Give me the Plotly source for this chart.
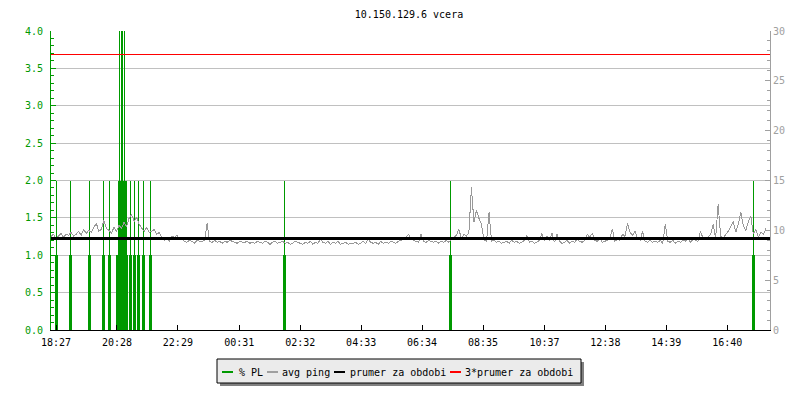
"""Ping / packet-loss chart for 10.150.129.6 (yesterday), RRD-style."""
import pandas as pd
import plotly.graph_objects as go

TITLE = "10.150.129.6 vcera"
START = pd.Timestamp("2024-01-14 18:17")
PERIOD_MIN = 1428

# avg ping [ms], one sample every 5 minutes from START
ping_ms = [
    9.4, 9.6, 9.2, 9.5, 9.7, 9.3, 9.6, 9.5, 9.8, 9.4, 9.6, 9.9, 9.5, 10.1, 9.7, 10.0, 9.8, 10.3, 10.7, 9.9,
    10.1, 11.0, 10.2, 10.0, 9.7, 10.3, 9.9, 10.5, 10.2, 10.8, 10.4, 11.2, 11.6, 10.9, 11.3, 10.6, 10.2, 9.9, 10.3, 9.8,
    9.9, 10.1, 9.6, 9.8, 9.3, 9.0, 9.2, 8.9, 9.4, 9.3, 9.5, 9.1, 9.2, 8.9, 8.8, 9.0, 8.9, 8.7, 9.0, 8.9,
    8.9, 9.0, 10.7, 8.9, 8.8, 9.0, 8.8, 8.9, 8.7, 8.9, 8.8, 9.0, 8.9, 8.8, 8.7, 8.9, 8.8, 8.8, 8.9, 8.7,
    8.8, 8.7, 8.9, 8.8, 8.7, 8.9, 8.8, 8.6, 8.8, 8.9, 8.7, 8.8, 8.9, 8.7, 8.8, 8.6, 8.7, 8.9, 8.8, 8.7,
    8.6, 8.8, 8.7, 8.9, 8.6, 8.8, 8.7, 9.1, 8.8, 8.7, 8.9, 8.6, 8.8, 8.7, 8.9, 8.6, 8.7, 8.8, 8.6, 8.7,
    8.7, 8.8, 8.6, 8.7, 8.9, 8.7, 9.1, 8.8, 8.7, 8.8, 8.6, 8.9, 8.7, 8.8, 8.7, 8.9, 8.8, 8.7, 8.9, 9.0,
    9.1, 9.3, 9.6, 9.2, 9.0, 8.9, 8.8, 9.6, 8.9, 8.8, 9.0, 8.9, 8.8, 8.9, 8.7, 8.9, 8.8, 9.0, 8.8, 9.1,
    9.3, 9.5, 10.1, 9.2, 9.6, 9.4, 9.8, 14.3, 10.8, 12.0, 11.2, 10.6, 9.0, 8.9, 11.8, 8.9, 9.0, 8.8, 8.9, 8.7,
    8.8, 8.9, 8.7, 9.0, 8.8, 8.9, 8.7, 8.8, 9.0, 9.5, 8.8, 8.9, 8.7, 8.8, 9.0, 9.7, 8.9, 9.4, 9.0, 9.7,
    8.8, 9.6, 8.9, 8.7, 8.8, 9.0, 8.7, 8.9, 8.8, 9.1, 8.9, 8.8, 9.0, 9.6, 9.3, 9.7, 9.0, 8.9, 9.2, 8.8,
    8.9, 9.0, 9.3, 10.1, 8.9, 9.1, 9.0, 9.6, 9.4, 10.7, 9.8, 9.5, 9.9, 9.2, 9.0, 9.9, 8.9, 8.8, 9.0, 8.8,
    8.9, 8.8, 9.0, 8.7, 10.6, 8.9, 8.8, 9.0, 8.7, 8.9, 8.8, 9.0, 8.9, 9.2, 8.8, 9.1, 9.0, 8.9, 9.9, 9.2,
    9.1, 9.3, 9.6, 10.6, 9.2, 12.6, 9.4, 9.2, 9.6, 9.9, 10.4, 10.9, 9.8, 10.6, 11.8, 10.5, 10.0, 10.9, 11.4, 9.6,
    10.1, 9.3, 9.8, 9.6, 10.2,
]
avg_ping = 9.23  # "prumer za obdobi"

# packet loss [%], 2-minute samples with non-zero loss
pl_times = [
    "18:25", "18:27", "18:29", "18:53", "18:55", "18:57",
    "19:31", "19:33", "19:35", "19:59", "20:01", "20:03",
    "20:11", "20:13", "20:15",
    "20:27", "20:29", "20:31", "20:33", "20:35", "20:37", "20:39", "20:41", "20:43", "20:45", "20:47",
    "20:51", "20:53", "20:55", "20:59", "21:01", "21:03",
    "21:07", "21:09", "21:11", "21:17", "21:19", "21:21",
    "21:31", "21:33", "21:35", "01:57", "01:59", "02:01",
    "07:27", "07:29", "07:31", "17:29", "17:31", "17:33",
]
pl_values = [
    1, 2, 1, 1, 2, 1,
    1, 2, 1, 1, 2, 1,
    1, 2, 1,
    1, 1, 2, 6, 2, 6, 2, 6, 2, 2, 1,
    1, 2, 1, 1, 2, 1,
    1, 2, 1, 1, 2, 1,
    1, 2, 1, 1, 2, 1,
    1, 2, 1, 1, 2, 1,
]

tick_labels = ["18:27", "20:28", "22:29", "00:31", "02:32", "04:33",
               "06:34", "08:35", "10:37", "12:38", "14:39", "16:40"]

GREEN = "#009900"
GREY = "#a0a0a0"
FONT = "DejaVu Sans Mono"


def clock(hhmm):
    t = pd.Timestamp(f"{START.date()} {hhmm}")
    return t if t >= START else t + pd.Timedelta(days=1)


end = START + pd.Timedelta(minutes=PERIOD_MIN)
ping_x = pd.date_range(START, periods=len(ping_ms), freq="5min")

grid = pd.date_range(START, end, freq="2min")
pl = pd.Series(pl_values, index=[clock(t) for t in pl_times]).reindex(grid, fill_value=0)

fig = go.Figure()
fig.add_trace(go.Scatter(
    x=pl.index, y=pl.values, mode="lines", line=dict(color="rgba(0,0,0,0)", width=0, shape="hv"),
    fill="tozeroy", fillcolor=GREEN, showlegend=False,
))
fig.add_trace(go.Scatter(
    x=ping_x, y=ping_ms, mode="lines", line=dict(color="#999999", width=1),
    yaxis="y2", showlegend=False,
))
fig.add_trace(go.Scatter(
    x=[START, end], y=[avg_ping, avg_ping], mode="lines", line=dict(color="black", width=3),
    yaxis="y2", showlegend=False,
))
fig.add_trace(go.Scatter(
    x=[START, end], y=[3 * avg_ping, 3 * avg_ping], mode="lines", line=dict(color="red", width=1),
    yaxis="y2", showlegend=False,
))

# plot area in pixels: x 51..770, y 31..330
L, R, T, B = 51, 770, 31, 330


def px(x):
    return (x - L) / (R - L)


def py(y):
    return (B - y) / (B - T)


# hand-drawn RRD style legend
legend = [("% PL", GREEN, 222, 237), ("avg ping", GREY, 267, 280),
          ("prumer za obdobi", "black", 334, 348), ("3*prumer za obdobi", "red", 450, 463)]
shapes = [
    dict(type="rect", xref="paper", yref="paper", x0=px(220), x1=px(584), y0=py(362), y1=py(386),
         fillcolor="#808080", line=dict(width=0)),
    dict(type="rect", xref="paper", yref="paper", x0=px(217), x1=px(581), y0=py(359), y1=py(383),
         fillcolor="#ebebeb", line=dict(color="black", width=1)),
]
annotations = []
for text, color, sx, tx in legend:
    shapes.append(dict(type="line", xref="paper", yref="paper", x0=px(sx), x1=px(sx + 11),
                       y0=py(372), y1=py(372), line=dict(color=color, width=2)))
    annotations.append(dict(text=text, xref="paper", yref="paper", x=px(tx), y=py(372),
                            xanchor="left", yanchor="middle", showarrow=False,
                            font=dict(family=FONT, size=10, color="black")))

fig.update_layout(
    width=800, height=400, autosize=False,
    margin=dict(l=L, r=800 - R, t=T, b=400 - B, pad=0),
    paper_bgcolor="white", plot_bgcolor="white",
    font=dict(family=FONT, size=10, color="black"),
    title=dict(text=TITLE, x=px(409), xref="paper", y=1 - 14 / 400, yanchor="middle",
               font=dict(family=FONT, size=10, color="black")),
    xaxis=dict(
        range=[START, end], tickvals=[clock(t) for t in tick_labels], ticktext=tick_labels,
        showgrid=False, zeroline=False, showline=True, linecolor="black", linewidth=1,
        ticks="inside", ticklen=5, tickcolor="black", tickfont=dict(color="black"),
        ticklabelstandoff=3,
    ),
    yaxis=dict(
        range=[0, 4], dtick=0.5, tickformat=".1f", showgrid=True, gridcolor="#c0c0c0",
        zeroline=False, showline=True, linecolor=GREEN, linewidth=1,
        ticks="inside", ticklen=5, tickcolor=GREEN, tickfont=dict(color=GREEN),
        ticklabelstandoff=5,
        minor=dict(dtick=0.1, ticks="inside", ticklen=3, tickcolor=GREEN, showgrid=False),
    ),
    yaxis2=dict(
        range=[0, 30], dtick=5, overlaying="y", side="right", showgrid=False, zeroline=False,
        showline=True, linecolor=GREY, linewidth=1,
        ticks="inside", ticklen=5, tickcolor=GREY, tickfont=dict(color=GREY),
        minor=dict(dtick=1, ticks="inside", ticklen=3, tickcolor=GREY, showgrid=False),
    ),
    shapes=shapes,
    annotations=annotations,
)

# drop the page's default 8px body margin and draw the traces without anti-aliasing, like rrdtool
post = """
document.body.style.margin = '0';
document.querySelectorAll('.scatterlayer path').forEach(function (p) { p.style.shapeRendering = 'crispEdges'; });
"""
fig.write_html("out.html", config={"displayModeBar": False}, post_script=post)
